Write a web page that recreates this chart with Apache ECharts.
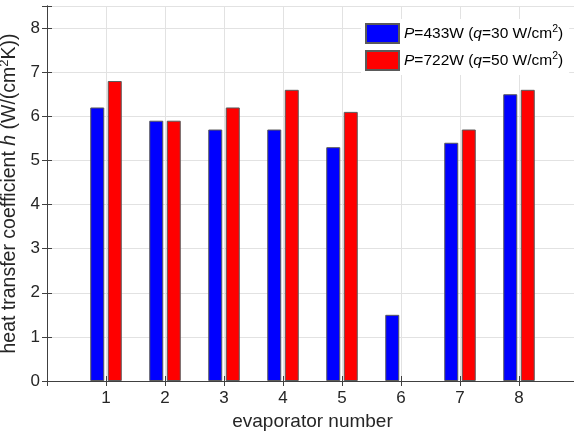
<!DOCTYPE html>
<html>
<head>
<meta charset="utf-8">
<script src="https://cdn.jsdelivr.net/npm/echarts@6/dist/echarts.min.js"></script>
<style>html,body{margin:0;padding:0;background:#fff}#c{width:574px;height:433px}</style>
</head>
<body>
<div id="c"></div>
<script>
var categories = [1, 2, 3, 4, 5, 6, 7, 8];
var p433 = [6.2, 5.9, 5.7, 5.7, 5.3, 1.5, 5.4, 6.5];
var p722 = [6.8, 5.9, 6.2, 6.6, 6.1, null, 5.7, 6.6];
var yTicks = [0, 1, 2, 3, 4, 5, 6, 7, 8];
var seriesNames = ['P=433W (q=30 W/cm2)', 'P=722W (q=50 W/cm2)'];
var legendRich = ['{i|P}=433W ({i|q}=30 W/cm{s|2})', '{i|P}=722W ({i|q}=50 W/cm{s|2})'];

function pairs(vals) {
  return categories.map(function (c, i) { return [c, vals[i]]; });
}

var font = 'Liberation Sans, Arial, Helvetica, sans-serif';
var txt = '#262626';
var axisCol = '#404040';
var gridCol = '#e2e2e2';

var chart = echarts.init(document.getElementById('c'));
chart.setOption({
  animation: false,
  backgroundColor: '#fff',
  textStyle: { fontFamily: font },
  grid: { left: 47, top: 6, width: 531, height: 375, containLabel: false, outerBoundsMode: 'none' },
  legend: {
    left: 361, top: 19,
    orient: 'vertical',
    itemWidth: 33, itemHeight: 19, itemGap: 6,
    padding: [4, 6, 4, 4],
    backgroundColor: '#fff',
    icon: 'rect',
    data: seriesNames,
    formatter: function (n) { return legendRich[seriesNames.indexOf(n)]; },
    textStyle: {
      fontFamily: font, fontSize: 15.5, color: '#000',
      rich: {
        i: { fontFamily: font, fontSize: 15.5, fontStyle: 'italic', color: '#000' },
        s: { fontFamily: font, fontSize: 10.5, color: '#000', verticalAlign: 'bottom', padding: [0, 0, 9, 0] }
      }
    }
  },
  xAxis: [{
    type: 'value', min: 0, max: 9, interval: 1,
    name: 'evaporator number', nameLocation: 'middle', nameGap: 28,
    nameTextStyle: { fontFamily: font, fontSize: 19, color: txt },
    axisLine: { show: true, lineStyle: { color: axisCol, width: 1 } },
    axisTick: { show: true, inside: true, length: 5, lineStyle: { color: axisCol } },
    axisLabel: {
      margin: 9, fontFamily: font, fontSize: 17, color: txt,
      formatter: function (v) { return categories.indexOf(v) >= 0 ? String(v) : ''; }
    },
    splitLine: { show: true, lineStyle: { color: gridCol, width: 1 } }
  }, {
    type: 'value', min: 0, max: 9, interval: 1, position: 'top',
    axisLine: { show: true, lineStyle: { color: axisCol, width: 1 } },
    axisTick: { show: true, inside: true, length: 5, lineStyle: { color: axisCol } },
    axisLabel: { show: false }, splitLine: { show: false }
  }],
  yAxis: [{
    type: 'value', min: 0, max: 8.5, interval: 1,
    name: 'heat transfer coefficient {i|h} (W/(cm{s|2}K))',
    nameLocation: 'middle', nameGap: 21, nameRotate: 90,
    nameTextStyle: {
      fontFamily: font, fontSize: 19.5, color: txt,
      rich: {
        i: { fontFamily: font, fontSize: 19.5, fontStyle: 'italic', color: txt },
        s: { fontFamily: font, fontSize: 13, color: txt, verticalAlign: 'bottom', padding: [0, 0, 11, 0] }
      }
    },
    axisLine: { show: true, lineStyle: { color: axisCol, width: 1 } },
    axisTick: { show: true, inside: true, length: 5, lineStyle: { color: axisCol } },
    axisLabel: {
      margin: 7, fontFamily: font, fontSize: 17, color: txt,
      formatter: function (v) { return yTicks.indexOf(v) >= 0 ? String(v) : ''; }
    },
    splitLine: { show: true, lineStyle: { color: gridCol, width: 1 } }
  }, {
    type: 'value', min: 0, max: 8.5, interval: 1, position: 'right',
    axisLine: { show: true, lineStyle: { color: axisCol, width: 1 } },
    axisTick: { show: true, inside: true, length: 5, lineStyle: { color: axisCol } },
    axisLabel: { show: false }, splitLine: { show: false }
  }],
  series: [{
    name: seriesNames[0], type: 'bar', xAxisIndex: 0, yAxisIndex: 0,
    data: pairs(p433), barWidth: 14, barGap: '25%',
    itemStyle: { color: '#0000ff', borderColor: '#5a5a5a', borderWidth: 1 }
  }, {
    name: seriesNames[1], type: 'bar', xAxisIndex: 0, yAxisIndex: 0,
    data: pairs(p722), barWidth: 14, barGap: '25%',
    itemStyle: { color: '#ff0000', borderColor: '#5a5a5a', borderWidth: 1 }
  }]
});
</script>
</body>
</html>
